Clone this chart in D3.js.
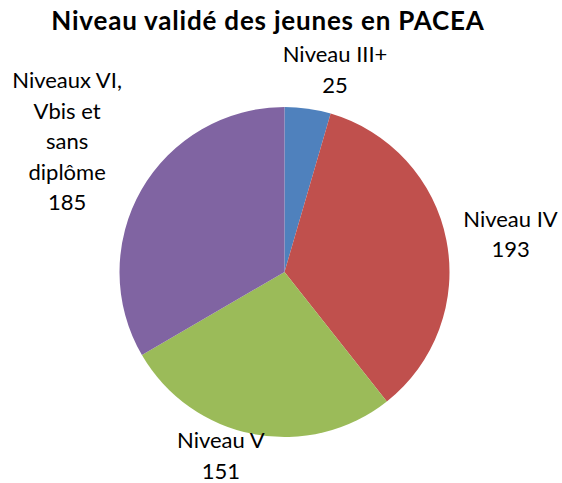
<!DOCTYPE html>
<html>
<head>
<meta charset="utf-8">
<script src="https://cdn.jsdelivr.net/npm/d3@7"></script>
<style>
  body { margin: 0; background: #fff; }
  text { font-family: Lato, "Open Sans", sans-serif; fill: #000; }
</style>
</head>
<body>
<svg id="chart" width="562" height="483"></svg>
<script>
// data
const categories = ["Niveau III+", "Niveau IV", "Niveau V", "Niveaux VI, Vbis et sans diplôme"]
const labelLines = [["Niveau III+"], ["Niveau IV"], ["Niveau V"], ["Niveaux VI,", "Vbis et", "sans", "diplôme"]]
const values = [25, 193, 151, 185]
const colors = ["#4F81BD", "#C0504D", "#9BBB59", "#8064A2"]

// label placement (deg offset from slice middle, distance from centre)
const labelShift = [5.9, 1.5, 8.4, 1.1]
const labelDist = [208.7, 229.2, 194.5, 253.6]

let svg = d3.select("#chart")
let cx = 284.5, cy = 272, r = 165

svg.append("text")
  .text("Niveau validé des jeunes en PACEA")
  .attr("x", 268)
  .attr("y", 29.5)
  .attr("text-anchor", "middle")
  .attr("font-weight", "bold")
  .attr("font-size", "26px")
  .attr("letter-spacing", "0.8px")

let pie = d3.pie().sort(null).value((d) => d)
let arcs = pie(values)
let arc = d3.arc().innerRadius(0).outerRadius(r)

let g = svg.append("g").attr("transform", "translate(" + cx + "," + cy + ")")

g.selectAll("path")
  .data(arcs)
  .enter()
  .append("path")
    .attr("d", arc)
    .attr("fill", (d, i) => colors[i])

let fs = 22, lh = 30.5, capH = fs * 0.72

let labels = g.selectAll("g.lbl")
  .data(arcs)
  .enter()
  .append("g")
    .attr("class", "lbl")
    .attr("transform", (d, i) => {
      let a = (d.startAngle + d.endAngle) / 2 + labelShift[i] * Math.PI / 180
      return "translate(" + (labelDist[i] * Math.sin(a)) + "," + (-labelDist[i] * Math.cos(a)) + ")"
    })

labels.each(function (d, i) {
  let lines = labelLines[i].concat([String(values[i])])
  let n = lines.length
  d3.select(this).selectAll("text")
    .data(lines)
    .enter()
    .append("text")
      .text((t) => t)
      .attr("text-anchor", "middle")
      .attr("font-size", fs + "px")
      .attr("y", (t, j) => -(n - 1) * lh / 2 + j * lh + capH / 2)
})
</script>
</body>
</html>
